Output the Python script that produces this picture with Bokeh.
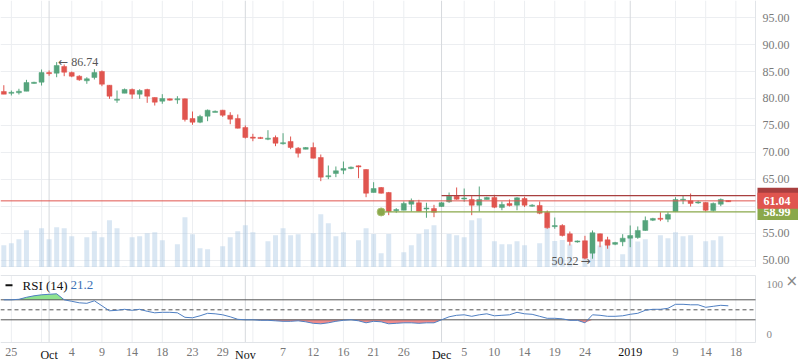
from bokeh.plotting import figure
from bokeh.layouts import column
from bokeh.models import Range1d
from bokeh.core.properties import value
from bokeh.embed import file_html
from bokeh.resources import INLINE

# ---------------- data ----------------
opens = [81.3, 81.0, 81.06, 81.35, 82.85, 83.02, 84.75, 84.69, 85.93, 84.81,
         84.13, 83.28, 83.89, 85.0, 82.46, 79.7, 80.98, 81.67, 80.8, 81.67,
         80.19, 79.5, 79.94, 79.8, 79.94, 76.3, 75.61, 76.72, 77.46, 77.83,
         76.9, 76.3, 74.63, 72.8, 72.78, 72.5, 72.78, 71.65, 72.04, 70.8,
         70.6, 70.93, 69.07, 65.5, 66.11, 66.72, 67.04, 67.5, 66.85, 62.59,
         63.52, 62.59, 59.25, 59.31, 60.43, 60.69, 59.55, 59.63, 60.0, 60.87,
         61.91, 61.4, 61.3, 60.24, 61.3, 61.67, 59.8, 60.56, 60.24, 61.48,
         60.1, 60.19, 58.94, 56.3, 56.48, 54.94, 53.45, 53.65, 51.35, 54.94,
         53.83, 53.0, 53.46, 54.13, 54.26, 55.56, 57.46, 57.78, 57.65, 59.07,
         61.2, 61.06, 60.7, 60.74, 59.26, 60.43, 61.1]
highs = [82.46, 81.48, 81.8, 83.46, 83.1, 85.37, 85.19, 86.74, 86.3, 85.0,
         84.31, 83.94, 85.43, 85.19, 82.5, 81.48, 81.85, 81.85, 81.72, 81.8,
         80.2, 80.8, 80.0, 80.43, 80.0, 77.59, 76.98, 77.96, 77.78, 77.9,
         77.46, 77.04, 75.0, 73.46, 72.9, 74.13, 73.15, 73.57, 72.96, 71.0,
         71.0, 71.85, 69.63, 67.59, 67.41, 68.33, 67.4, 67.6, 66.9, 64.5,
         63.6, 62.7, 59.69, 60.93, 61.48, 61.24, 60.69, 60.31, 60.8, 62.59,
         63.52, 63.33, 61.91, 63.7, 61.8, 62.17, 60.93, 61.3, 61.72, 61.8,
         60.43, 60.93, 59.26, 57.96, 56.72, 55.37, 53.7, 54.57, 55.56, 55.0,
         54.39, 53.45, 54.87, 56.48, 56.3, 58.15, 57.9, 58.94, 58.94, 61.72,
         62.04, 62.4, 61.1, 60.8, 60.74, 61.48, 61.1]
lows = [80.8, 80.56, 80.74, 81.35, 82.75, 82.4, 84.2, 83.94, 84.13, 83.94,
        83.28, 82.72, 83.52, 82.28, 79.94, 79.2, 80.98, 79.94, 79.94, 79.2,
        78.7, 79.02, 79.6, 79.02, 75.74, 75.13, 75.43, 75.8, 77.46, 76.6,
        75.24, 74.45, 72.59, 72.09, 72.5, 72.28, 71.17, 71.46, 70.61, 69.07,
        70.6, 68.9, 64.69, 65.06, 65.43, 65.98, 66.9, 65.24, 61.72, 62.59,
        62.4, 58.39, 58.83, 59.3, 59.07, 59.1, 57.91, 58.02, 59.9, 60.69,
        61.24, 60.87, 58.39, 59.07, 61.3, 59.69, 59.31, 60.0, 59.31, 59.9,
        59.94, 58.57, 55.87, 55.87, 54.44, 52.78, 53.3, 50.22, 50.33, 52.46,
        52.17, 52.83, 52.65, 52.46, 54.02, 55.5, 57.3, 57.28, 57.1, 59.0,
        60.43, 60.0, 60.5, 59.07, 59.07, 60.06, 60.85]
closes = [80.8, 81.1, 81.35, 82.96, 82.95, 84.81, 84.65, 86.11, 84.87, 84.13,
          83.46, 83.65, 84.81, 82.65, 80.43, 79.85, 81.67, 80.8, 81.48, 80.43,
          79.32, 80.0, 79.69, 79.9, 76.11, 75.61, 76.67, 77.83, 77.6, 76.9,
          76.17, 74.5, 72.78, 72.7, 72.6, 72.6, 71.72, 71.8, 70.93, 69.87,
          70.93, 68.94, 65.43, 65.7, 66.61, 67.04, 67.28, 67.35, 62.46, 63.33,
          62.46, 59.07, 59.4, 60.56, 61.06, 59.13, 59.7, 58.94, 60.69, 61.91,
          61.35, 61.55, 60.24, 61.3, 61.67, 59.87, 60.37, 60.19, 61.6, 60.24,
          60.2, 58.76, 56.06, 56.43, 54.63, 53.52, 53.6, 50.43, 55.13, 53.57,
          52.83, 53.33, 54.13, 54.63, 55.56, 57.41, 57.78, 57.65, 58.52, 61.3,
          61.3, 60.56, 60.8, 59.31, 60.56, 61.3, 60.88]
volumes = [446, 486, 566, 746, 10, 786, 566, 806, 786, 626,
           14, 606, 726, 606, 946, 786, 14, 606, 626, 686,
           706, 546, 0, 466, 1006, 666, 386, 366, 0, 426,
           606, 726, 846, 706, 0, 526, 646, 786, 646, 666,
           14, 686, 1066, 886, 626, 706, 0, 546, 786, 672,
           286, 672, 0, 306, 446, 672, 766, 846, 0, 672,
           646, 606, 946, 986, 0, 526, 466, 466, 526, 446,
           0, 486, 790, 530, 550, 460, 0, 440, 520, 440,
           540, 0, 266, 630, 520, 566, 0, 646, 586, 706,
           626, 646, 0, 526, 546, 626, 10]
rsi = [70, 70, 71, 75, 78, 80, 81, 82, 70, 67,
       64, 63, 68, 58, 48, 49, 51, 49, 51, 47,
       44, 45, 45, 44, 35, 34, 38, 43, 42, 40,
       36, 31, 30, 30, 29, 29, 28, 27, 27, 28,
       26, 23, 22, 24, 27, 29, 30, 28, 24, 27,
       26, 22, 23, 24, 24, 23, 24, 24, 30, 36,
       39, 40, 37, 40, 42, 38, 39, 40, 45, 42,
       41, 37, 33, 33, 32, 29, 29, 24, 40, 39,
       37, 37, 38, 41, 43, 49, 51, 51, 53, 61,
       61, 60, 60, 55, 57, 59, 58]

tick_idx = [1, 6, 9, 13, 17, 21, 25, 29, 32, 37, 41, 45, 49, 53, 58, 61, 65,
            69, 73, 77, 83, 89, 93, 97]
tick_text = ["25", "Oct", "4", "9", "14", "18", "23", "29", "Nov", "7", "12",
             "16", "21", "26", "Dec", "5", "10", "14", "19", "24", "2019", "9",
             "14", "18"]
month_text = ["Oct", "Nov", "Dec", "2019"]
extra_grid_idx = [5, 33, 81]
price_ticks = [50, 55, 60, 65, 70, 75, 80, 85, 90, 95]
price_tick_text = ["50.00", "55.00", "60.00", "65.00", "70.00", "75.00",
                   "80.00", "85.00", "90.00", "95.00"]
rsi_ticks = [0, 100]
rsi_tick_text = ["0", "100"]
rsi_levels = [70, 50, 30]

last_price = 61.04
support_level = 58.99
support_start = 50
resist_level = 62.0
resist_start = 58
high_idx, high_val = 7, 86.74
low_idx, low_val = 77, 50.22
rsi_label = "RSI (14)"
rsi_value_text = "21.2"

# ---------------- styling / geometry ----------------
FONT = "Liberation Serif"
GREEN = "#55a47c"
RED = "#e0554f"
DARKRED = "#a83f3f"
OLIVE = "#8aa84b"
GRID = "#eceef1"
MONTHGRID = "#d6d9dd"
BORDER = "#e1e4e8"
W = 798
FRAME_W = 755
X0, X1 = -0.44, 99.6
KX = FRAME_W / (X1 - X0)          # px per candle
XR = X0 + W / KX


def dx(px):
    return px / KX


H1 = 267
Y0, Y1 = 48.7, 98.15
KY = H1 / (Y1 - Y0)


def dy(px):
    return px / KY


GAP, RFRAME, RAXIS = 8, 67, 21
H2 = GAP + RFRAME + RAXIS
R_BOT, R_TOP = -15.4, 118.6
KR = RFRAME / (R_TOP - R_BOT)
RY0 = R_BOT - RAXIS / KR
RY1 = R_TOP + GAP / KR

n = len(opens)
idx = list(range(n))
colors = [GREEN if c >= o else RED for o, c in zip(opens, closes)]
body_top, body_bot = [], []
for o, c in zip(opens, closes):
    t, b = max(o, c), min(o, c)
    if t - b < 0.2:
        m = (t + b) / 2
        t, b = m + 0.1, m - 0.1
    body_top.append(t)
    body_bot.append(b)

month_idx = [i for i, t in zip(tick_idx, tick_text) if t in month_text]
plain_grid = sorted([i for i in tick_idx if i not in month_idx] + extra_grid_idx)

xr = Range1d(X0, XR)


def bare(fig):
    fig.xaxis.visible = False
    fig.yaxis.visible = False
    fig.xgrid.visible = False
    fig.ygrid.visible = False
    fig.outline_line_color = None
    fig.background_fill_color = "white"
    fig.border_fill_color = "white"


# ---------------- main price panel ----------------
p = figure(width=W, height=H1, x_range=xr, y_range=Range1d(Y0, Y1),
           output_backend="svg", toolbar_location=None,
           min_border=0, min_border_left=0, min_border_right=0,
           min_border_top=0, min_border_bottom=0)
bare(p)

# grid
p.segment(x0=[X0] * len(price_ticks), y0=price_ticks,
          x1=[X1] * len(price_ticks), y1=price_ticks,
          line_color=GRID, line_width=1)
p.segment(x0=plain_grid, y0=[Y0] * len(plain_grid), x1=plain_grid,
          y1=[Y1] * len(plain_grid), line_color=GRID, line_width=1)
p.segment(x0=month_idx, y0=[Y0] * len(month_idx), x1=month_idx,
          y1=[Y1] * len(month_idx), line_color=MONTHGRID, line_width=1)
# frame borders (right and bottom)
p.segment(x0=[X1], y0=[Y0], x1=[X1], y1=[Y1], line_color=BORDER, line_width=1)
p.segment(x0=[X0], y0=[Y0 + dy(0.5)], x1=[X1], y1=[Y0 + dy(0.5)],
          line_color=BORDER, line_width=1)

# volume
p.extra_y_ranges = {"vol": Range1d(0, 5340)}
p.vbar(x=idx, top=volumes, bottom=0, width=0.66, y_range_name="vol",
       fill_color="#a8c6e2", fill_alpha=0.42, line_color=None)

# candles
p.segment(x0=idx, y0=lows, x1=idx, y1=highs, line_color=colors, line_width=1)
p.vbar(x=idx, top=body_top, bottom=body_bot, width=0.66,
       fill_color=colors, line_color=colors, line_width=0.5)

# level lines
p.segment(x0=[X0], y0=[last_price], x1=[X1], y1=[last_price],
          line_color=RED, line_width=1)
p.segment(x0=[resist_start], y0=[resist_level], x1=[X1], y1=[resist_level],
          line_color=DARKRED, line_width=1.2)
p.segment(x0=[support_start], y0=[support_level], x1=[X1], y1=[support_level],
          line_color=OLIVE, line_width=1.2)
p.scatter(x=[support_start], y=[support_level], size=8, marker="circle",
          fill_color=OLIVE, line_color="#a9bf73", line_width=1)

# high / low markers
p.text(x=[high_idx + dx(1.5)], y=[high_val], text=["\u2190"],
       text_font=value("DejaVu Sans"), text_font_size="12px",
       text_color="#555555", text_align="left", text_baseline="middle")
p.text(x=[high_idx + dx(14.5)], y=[high_val], text=["%.2f" % high_val],
       text_font=value(FONT), text_font_size="12px", text_color="#555555",
       text_align="left", text_baseline="middle")
p.text(x=[low_idx - dx(6.5)], y=[low_val - dy(1.5)], text=["%.2f" % low_val],
       text_font=value(FONT), text_font_size="12px", text_color="#555555",
       text_align="right", text_baseline="middle")
p.text(x=[low_idx - dx(4.5)], y=[low_val - dy(1.5)], text=["\u2192"],
       text_font=value("DejaVu Sans"), text_font_size="12px",
       text_color="#555555", text_align="left", text_baseline="middle")

# right axis labels
p.text(x=[X1 + dx(7)] * len(price_ticks), y=price_ticks, text=price_tick_text,
       text_font=value(FONT), text_font_size="12px", text_color="#7a7a7a",
       text_align="left", text_baseline="middle")

# price tags
tag_x = X1 + dx(2 + 22)
p.rect(x=[tag_x], y=[resist_level], width=44, height=16, width_units="screen",
       height_units="screen", fill_color=DARKRED, line_color=None)
p.rect(x=[tag_x], y=[support_level], width=44, height=16, width_units="screen",
       height_units="screen", fill_color=OLIVE, line_color=None)
p.text(x=[X1 + dx(8)], y=[support_level], text=["%.2f" % support_level],
       text_font=value(FONT), text_font_size="12px", text_font_style="bold",
       text_color="white", text_align="left", text_baseline="middle")
p.rect(x=[tag_x], y=[last_price], width=44, height=16, width_units="screen",
       height_units="screen", fill_color=RED, line_color=None)
p.text(x=[X1 + dx(8)], y=[last_price], text=["%.2f" % last_price],
       text_font=value(FONT), text_font_size="12px", text_font_style="bold",
       text_color="white", text_align="left", text_baseline="middle")

# ---------------- RSI panel ----------------
r = figure(width=W, height=H2, x_range=xr, y_range=Range1d(RY0, RY1),
           output_backend="svg", toolbar_location=None,
           min_border=0, min_border_left=0, min_border_right=0,
           min_border_top=0, min_border_bottom=0)
bare(r)

r.segment(x0=plain_grid, y0=[R_BOT] * len(plain_grid), x1=plain_grid,
          y1=[R_TOP] * len(plain_grid), line_color=GRID, line_width=1)
r.segment(x0=month_idx, y0=[R_BOT] * len(month_idx), x1=month_idx,
          y1=[R_TOP] * len(month_idx), line_color=MONTHGRID, line_width=1)
r.segment(x0=[X0, X0, X1], y0=[R_TOP, R_BOT, R_BOT], x1=[X1, X1, X1],
          y1=[R_TOP, R_BOT, R_TOP], line_color=BORDER, line_width=1)

r.varea(x=idx, y1=[70] * n, y2=[max(v, 70) for v in rsi],
        fill_color="#8fe38f", fill_alpha=1)
r.varea(x=idx, y1=[min(v, 30) for v in rsi], y2=[30] * n,
        fill_color="#ef8c8c", fill_alpha=1)
for lvl, dash in zip(rsi_levels, ["solid", "4 3", "solid"]):
    r.line(x=[X0, X1], y=[lvl, lvl], line_color="#555555", line_width=1,
           line_dash=dash)
r.line(x=idx, y=rsi, line_color="#4f7fc2", line_width=1)

# x labels
day_i = [i for i, t in zip(tick_idx, tick_text) if t not in month_text]
day_t = [t for t in tick_text if t not in month_text]
mon_t = [t for t in tick_text if t in month_text]
lab_y = R_BOT - 5 / KR
r.text(x=day_i, y=[lab_y] * len(day_i), text=day_t, text_font=value(FONT),
       text_font_size="12px", text_color="#777777", text_align="center",
       text_baseline="top")
r.text(x=month_idx, y=[lab_y] * len(month_idx), text=mon_t,
       text_font=value(FONT), text_font_size="12px", text_color="#111111",
       text_align="center", text_baseline="top")

# right labels
r.text(x=[X1 + dx(11)] * 2, y=rsi_ticks, text=rsi_tick_text,
       text_font=value(FONT), text_font_size="11px", text_color="#8a8a8a",
       text_align="left", text_baseline="middle")
r.text(x=[X1 + dx(30)], y=[108], text=["\u00d7"],
       text_font=value("DejaVu Sans"), text_font_size="15px",
       text_color="#888888", text_align="left", text_baseline="middle")

# legend
r.segment(x0=[X0 + dx(5)], y0=[99], x1=[X0 + dx(12)], y1=[99],
          line_color="#111111", line_width=2)
r.text(x=[X0 + dx(22)], y=[99], text=[rsi_label], text_font=value(FONT),
       text_font_size="13px", text_color="#111111", text_align="left",
       text_baseline="middle")
r.text(x=[X0 + dx(70)], y=[99], text=[rsi_value_text], text_font=value(FONT),
       text_font_size="13px", text_color="#3a6fb5", text_align="left",
       text_baseline="middle")

layout = column(p, r, spacing=0)
open("out.html", "w").write(file_html(layout, INLINE))
